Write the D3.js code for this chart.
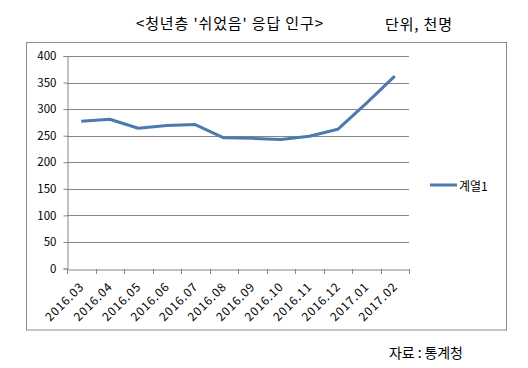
<!DOCTYPE html>
<html><head><meta charset="utf-8">
<script src="https://cdn.jsdelivr.net/npm/d3@7"></script>
<style>body{margin:0;background:#fff;} text{font-family:"Noto Sans CJK KR","Noto Sans",sans-serif;}</style>
</head><body>
<svg id="c" width="528" height="368"></svg>
<script>
const categories = ["2016.03","2016.04","2016.05","2016.06","2016.07","2016.08","2016.09","2016.10","2016.11","2016.12","2017.01","2017.02"];
const values = [277, 281, 264, 269, 271, 246, 245, 243, 249, 262, 311, 362];
const yTicks = [0,50,100,150,200,250,300,350,400];
const seriesName = "계열1";
const title = "<청년층 '쉬었음' 응답 인구>";
const unit = "단위, 천명";
const source = "자료 : 통계청";

(function(){
const svg = d3.select("#c");
const pL = 67, pR = 409, pT = 56, pB = 268.5;
const x = d3.scaleBand().domain(categories).range([pL, pR]);
const y = d3.scaleLinear().domain([0,400]).range([pB, pT]);

svg.append("rect").attr("x",26.5).attr("y",42.5).attr("width",480).attr("height",287.5)
  .attr("fill","none").attr("stroke","#8c8c8c").attr("stroke-width",1);

svg.append("g").selectAll("line").data(yTicks.filter(d=>d>0)).join("line")
  .attr("x1",pL).attr("x2",pR).attr("y1",d=>Math.round(y(d))+0.5).attr("y2",d=>Math.round(y(d))+0.5)
  .attr("stroke","#868686");

const ya = svg.append("g").attr("transform",`translate(${pL+0.5},0)`)
  .call(d3.axisLeft(y).tickValues(yTicks).tickSize(4).tickPadding(7).tickFormat(d3.format("d")));
ya.select(".domain").attr("stroke","#868686");
ya.selectAll(".tick line").attr("stroke","#868686");
ya.selectAll(".tick text").attr("font-size",11.5).attr("fill","#000");

const xa = svg.append("g").attr("transform",`translate(0,${Math.round(pB)+0.5})`)
  .call(d3.axisBottom(x).tickSize(0).tickFormat(""));
xa.select(".domain").attr("stroke","#868686");
const bounds = categories.map(c=>x(c)).concat([pR]);
svg.append("g").selectAll("line").data(bounds).join("line")
  .attr("x1",d=>Math.round(d)+0.5).attr("x2",d=>Math.round(d)+0.5)
  .attr("y1",Math.round(pB)).attr("y2",Math.round(pB)+5).attr("stroke","#868686");
svg.append("g").selectAll("text").data(categories).join("text")
  .attr("transform",d=>`translate(${x(d)+x.bandwidth()/2+3},${pB+19.5}) rotate(-45)`)
  .attr("text-anchor","end").attr("font-size",12).attr("fill","#000")
  .attr("textLength",48).attr("lengthAdjust","spacing").text(d=>d);

const line = d3.line().x((d,i)=>x(categories[i])+x.bandwidth()/2).y(d=>y(d));
svg.append("path").datum(values).attr("d",line).attr("fill","none")
  .attr("stroke","#4a7ab0").attr("stroke-width",3).attr("stroke-linejoin","round");

svg.append("line").attr("x1",430).attr("x2",457).attr("y1",185).attr("y2",185)
  .attr("stroke","#4a7ab0").attr("stroke-width",3);
svg.append("text").attr("x",459).attr("y",191).attr("font-size",12).attr("fill","#000").text(seriesName);

svg.append("text").attr("x",136).attr("y",29).attr("font-size",15).attr("fill","#000")
  .attr("textLength",187).attr("lengthAdjust","spacing").text(title);
svg.append("text").attr("x",385).attr("y",30).attr("font-size",15).attr("fill","#000")
  .attr("textLength",67).attr("lengthAdjust","spacing").text(unit);
svg.append("text").attr("x",389).attr("y",358).attr("font-size",14).attr("fill","#000")
  .attr("textLength",74).attr("lengthAdjust","spacing").text(source);
})();
</script>
</body></html>
